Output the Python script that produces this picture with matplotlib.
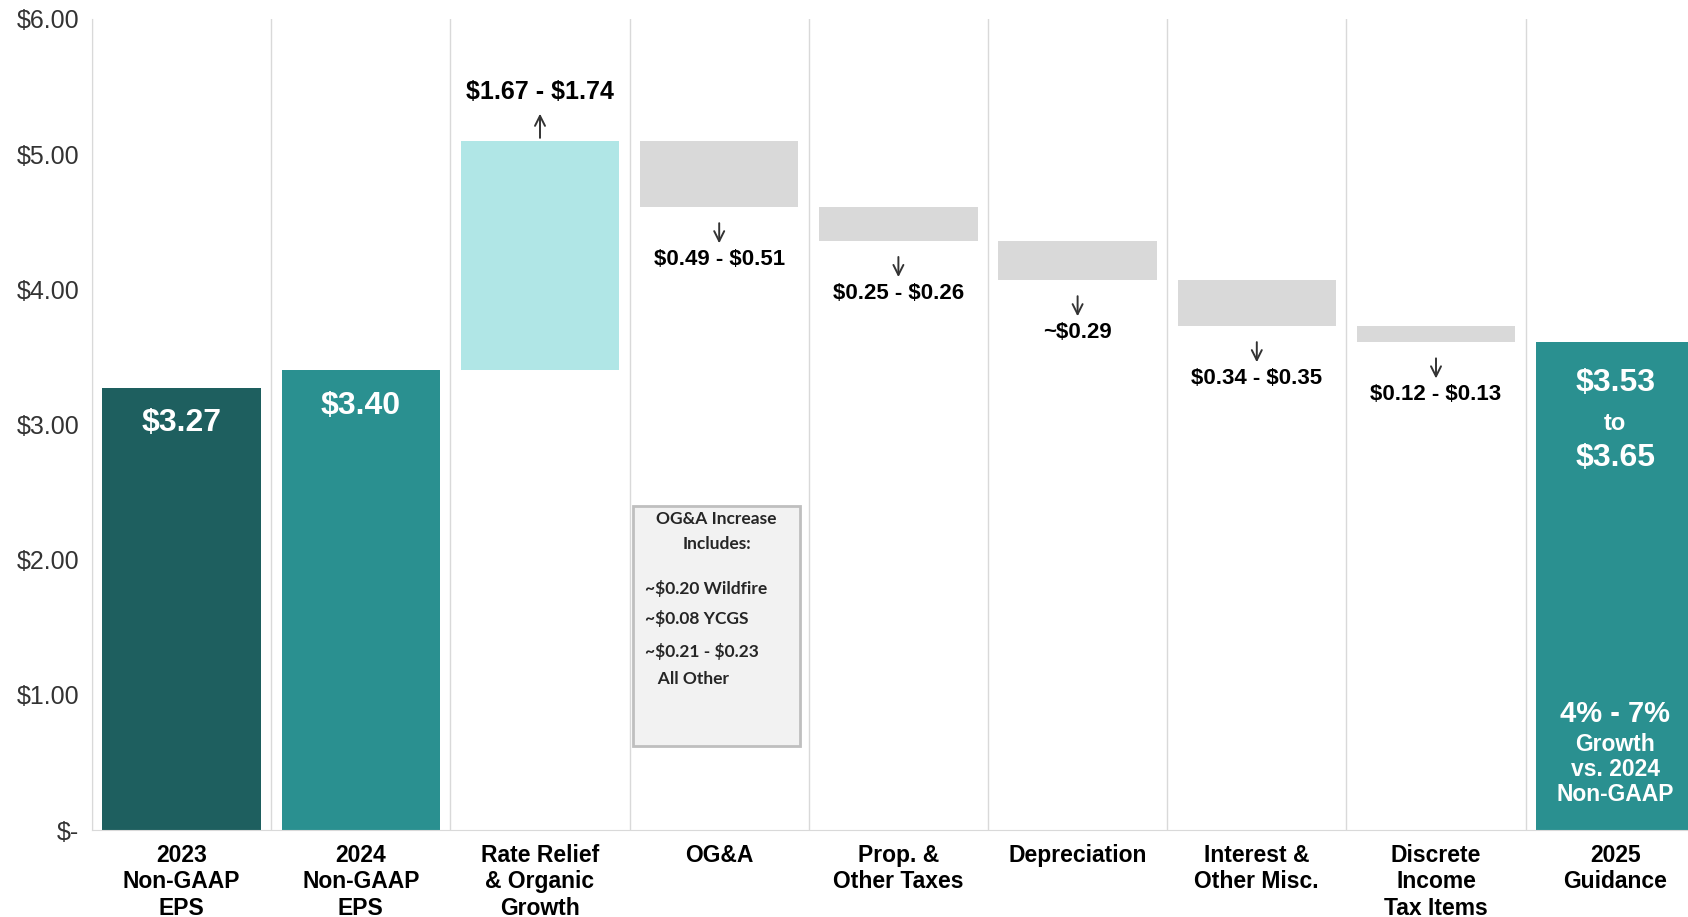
import matplotlib.pyplot as plt
from matplotlib.patches import Rectangle

plt.rcParams['font.family'] = ['Liberation Sans', 'DejaVu Sans']
plt.rcParams['text.parse_math'] = False

# data
categories = ['2023\nNon-GAAP\nEPS', '2024\nNon-GAAP\nEPS', 'Rate Relief\n& Organic\nGrowth',
              'OG&A', 'Prop. &\nOther Taxes', 'Depreciation', 'Interest &\nOther Misc.',
              'Discrete\nIncome\nTax Items', '2025\nGuidance']
eps_2023 = 3.27
eps_2024 = 3.40
changes = [1.70, -0.49, -0.25, -0.29, -0.34, -0.12]
change_labels = ['$1.67 - $1.74', '$0.49 - $0.51', '$0.25 - $0.26', '~$0.29',
                 '$0.34 - $0.35', '$0.12 - $0.13']
guidance_low = '$3.53'
guidance_high = '$3.65'
yticks = [0, 1, 2, 3, 4, 5, 6]
ytick_labels = ['$-', '$1.00', '$2.00', '$3.00', '$4.00', '$5.00', '$6.00']
oga_items = ['~$0.20 Wildfire', '~$0.08 YCGS', '~$0.21 - $0.23', '   All Other']

dark = '#1e5f5f'
teal = '#2a9090'
light = '#b0e6e6'
grey = '#d9d9d9'

W, H = 1688, 917
fig = plt.figure(figsize=(W / 100, H / 100), dpi=100)
ax = fig.add_axes([92 / W, 87 / H, (W - 92) / W, 811 / H])
bw = 0.885

# start bars
ax.bar(0, eps_2023, width=bw, color=dark)
ax.bar(1, eps_2024, width=bw, color=teal)
ax.text(0, eps_2023 - 0.26, '$3.27', ha='center', va='center', color='white',
        fontsize=23, fontweight='bold')
ax.text(1, eps_2024 - 0.26, '$3.40', ha='center', va='center', color='white',
        fontsize=23, fontweight='bold')

# floating bars
total = eps_2024
for i, (d, lab) in enumerate(zip(changes, change_labels)):
    x = i + 2
    new = total + d
    lo, hi = min(total, new), max(total, new)
    ax.bar(x, hi - lo, bottom=lo, width=bw, color=light if d > 0 else grey)
    if d > 0:
        ax.annotate('', xy=(x, hi + 0.22), xytext=(x, hi),
                    arrowprops=dict(arrowstyle='->', color='#333333', lw=1.4,
                                    mutation_scale=18))
        ax.text(x, hi + 0.36, lab, ha='center', va='center', fontsize=18, fontweight='bold')
    else:
        ax.annotate('', xy=(x, lo - 0.29), xytext=(x, lo - 0.10),
                    arrowprops=dict(arrowstyle='->', color='#333333', lw=1.4,
                                    mutation_scale=18))
        ax.text(x, lo - 0.39, lab, ha='center', va='center', fontsize=16, fontweight='bold')
    total = new

# 2025 guidance
ax.bar(8, total, width=bw, color=teal)
ax.text(8, total - 0.30, guidance_low, ha='center', va='center', color='white',
        fontsize=23, fontweight='bold')
ax.text(8, total - 0.60, 'to', ha='center', va='center', color='white',
        fontsize=17, fontweight='bold')
ax.text(8, total - 0.86, guidance_high, ha='center', va='center', color='white',
        fontsize=23, fontweight='bold')
ax.text(8, 0.86, '4% - 7%', ha='center', va='center', color='white',
        fontsize=21, fontweight='bold')
ax.text(8, 0.45, 'Growth\nvs. 2024\nNon-GAAP', ha='center', va='center', color='white',
        fontsize=16.5, fontweight='bold', linespacing=1.12)

# OG&A callout box
ax.add_patch(Rectangle((2.52, 0.62), 0.93, 1.78, facecolor='#f2f2f2', edgecolor='#bfbfbf',
                       lw=2, zorder=3))
ax.text(2.985, 2.30, 'OG&A Increase', ha='center', va='center', fontsize=12.5,
        fontweight='bold', family='Lato', color='#262626', zorder=4)
ax.text(2.985, 2.117, 'Includes:', ha='center', va='center', fontsize=12.5,
        fontweight='bold', family='Lato', color='#262626', zorder=4)
for yy, t in zip([1.784, 1.562, 1.318, 1.118], oga_items):
    ax.text(2.585, yy, t, ha='left', va='center', fontsize=12.5, fontweight='bold',
            family='Lato', color='#262626', zorder=4)

# separators
for i in range(len(categories)):
    ax.axvline(i - 0.5, color=grey, lw=1, zorder=0)

ax.set_xlim(-0.5, -0.5 + (W - 92) / 179.2)
ax.set_ylim(0, 6)
ax.set_xticks(range(len(categories)))
ax.set_xticklabels(categories, fontsize=16.5, fontweight='bold')
ax.set_yticks(yticks)
ax.set_yticklabels(ytick_labels, fontsize=18, color='#333333')
ax.tick_params(length=0)
ax.tick_params(axis='x', pad=10)
ax.tick_params(axis='y', pad=9)
for s in ['top', 'right']:
    ax.spines[s].set_visible(False)
ax.spines['left'].set_color(grey)
ax.spines['bottom'].set_color(grey)

fig.savefig('out.png', dpi=100)
